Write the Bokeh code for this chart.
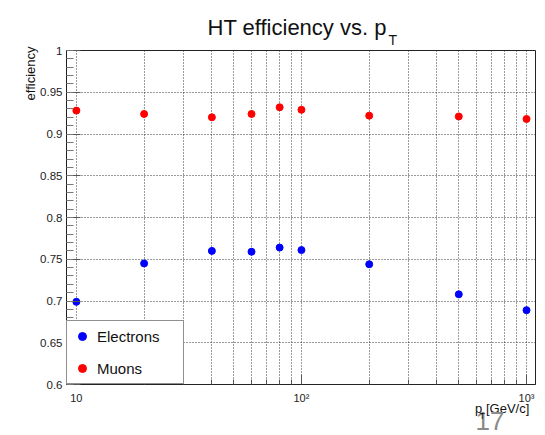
from bokeh.plotting import figure
from bokeh.models import (FixedTicker, NumeralTickFormatter, Label, Legend, LegendItem,
                          ColumnDataSource, Range1d)
from bokeh.embed import file_html
from bokeh.resources import INLINE

# ---- data ----
pt = [10, 20, 40, 60, 80, 100, 200, 500, 1000]
eff_electrons = [0.699, 0.745, 0.760, 0.759, 0.764, 0.761, 0.744, 0.708, 0.689]
eff_muons = [0.928, 0.924, 0.920, 0.924, 0.932, 0.929, 0.922, 0.921, 0.918]

x_major_ticks = [10, 100, 1000]
x_major_labels = {10: "10", 100: "10\u00b2", 1000: "10\u00b3"}
x_minor_ticks = [9, 20, 30, 40, 50, 60, 70, 80, 90, 200, 300, 400, 500, 600, 700, 800, 900]
y_major_ticks = [0.6, 0.65, 0.7, 0.75, 0.8, 0.85, 0.9, 0.95, 1.0]
y_minor_ticks = [round(0.6 + 0.01 * i, 2) for i in range(41)]

FONT = "Liberation Sans"
W, H = 545, 435

p = figure(width=W, height=H, x_axis_type="log", output_backend="svg",
           toolbar_location=None, x_range=Range1d(9.04, 1096), y_range=Range1d(0.6, 1.0),
           min_border_left=66, min_border_right=10, min_border_top=50, min_border_bottom=51)
p.background_fill_color = "white"
p.border_fill_color = "white"
p.outline_line_color = "#222222"
p.outline_line_width = 1

# x axis
xa = p.xaxis[0]
xa.ticker = FixedTicker(ticks=x_major_ticks, minor_ticks=x_minor_ticks)
xa.major_label_overrides = x_major_labels
xa.major_tick_in = 10
xa.major_tick_out = 0
xa.minor_tick_in = 5
xa.minor_tick_out = 0
xa.axis_line_color = "#222222"
xa.major_tick_line_color = "#555555"
xa.minor_tick_line_color = "#555555"
xa.major_label_text_font = FONT
xa.major_label_text_font_size = "11px"
xa.major_label_text_color = "#222222"
xa.major_label_standoff = 7

# y axis
ya = p.yaxis[0]
ya.ticker = FixedTicker(ticks=y_major_ticks, minor_ticks=y_minor_ticks)
ya.formatter = NumeralTickFormatter(format="0.[00]")
ya.major_tick_in = 14
ya.major_tick_out = 0
ya.minor_tick_in = 7
ya.minor_tick_out = 0
ya.axis_line_color = "#222222"
ya.major_tick_line_color = "#555555"
ya.minor_tick_line_color = "#777777"
ya.major_label_text_font = FONT
ya.major_label_text_font_size = "11.5px"
ya.major_label_text_color = "#222222"
ya.major_label_standoff = 4

# grids
for g in (p.xgrid, p.ygrid):
    g.grid_line_color = "#222222"
    g.grid_line_alpha = 0.9
    g.grid_line_dash = "1 2"
p.xgrid.minor_grid_line_color = "#222222"
p.xgrid.minor_grid_line_alpha = 0.9
p.xgrid.minor_grid_line_dash = "1 2"

src_e = ColumnDataSource(dict(x=pt, y=eff_electrons))
src_m = ColumnDataSource(dict(x=pt, y=eff_muons))
r_e = p.scatter("x", "y", source=src_e, size=7, color="#0000ff")
r_m = p.scatter("x", "y", source=src_m, size=7, color="#ff0000")

legend = Legend(items=[LegendItem(label="Electrons", renderers=[r_e]),
                       LegendItem(label="Muons", renderers=[r_m])],
                location=(0, 0), margin=0, padding=5, spacing=12,
                glyph_width=20, glyph_height=20, label_standoff=5, label_width=81,
                label_text_font=FONT, label_text_font_size="15px", label_text_color="#111111",
                border_line_color="#222222", border_line_width=1,
                background_fill_color="white", background_fill_alpha=1)
p.add_layout(legend, "center")


def lab(panel, xc, yc, text, size, color="#111111", align="left", angle=0.0):
    """text placed at canvas pixel (xc, yc from top), hosted in a side panel"""
    p.add_layout(Label(x=xc, y=yc, x_units="canvas", y_units="canvas", angle=angle,
                       text=text, text_font=FONT, text_font_size=size, text_color=color,
                       text_baseline="alphabetic", text_align=align), panel)


# title and axis titles
lab("above", 207, 27, "HT efficiency vs. p", "22px")
lab("left", 388, 39, "T", "14px")
lab("above", 536, 408, "p   [GeV/c]", "13px", align="right")
lab("left", 30, 46, "efficiency", "13px", align="right", angle=1.5708)
lab("left", 479, 415, "T", "9px")
lab("below", 475, 420, "17", "26px", color="#8a8a8a")

open("out.html", "w").write(file_html(p, INLINE))
